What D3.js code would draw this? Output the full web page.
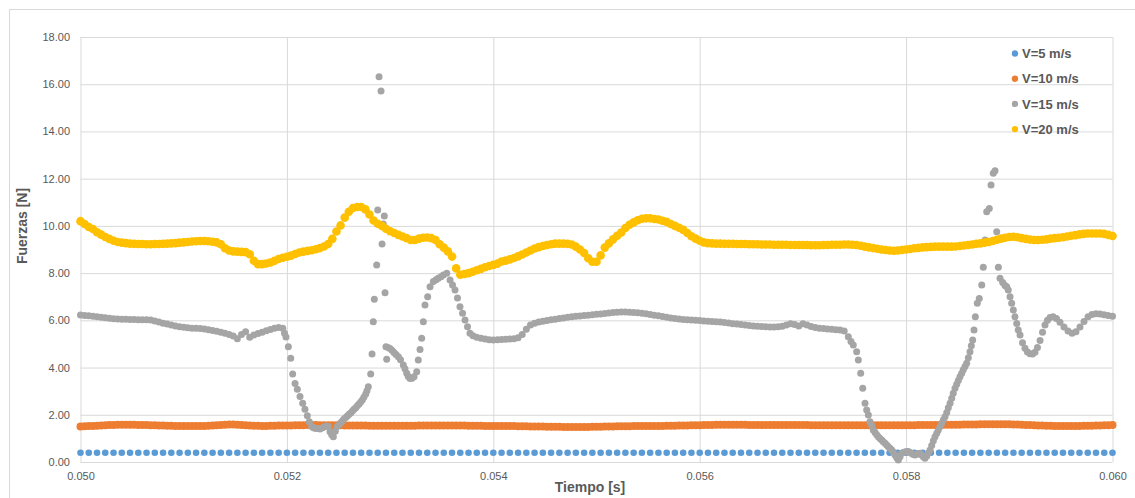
<!DOCTYPE html>
<html>
<head>
<meta charset="utf-8">
<script src="https://cdn.jsdelivr.net/npm/d3@7"></script>
<style>
  html, body { margin: 0; padding: 0; background: #fff; }
  svg { display: block; }
  text { font-family: "Liberation Sans", Arial, sans-serif; }
</style>
</head>
<body>
<svg id="chart" width="1135" height="498"></svg>
<script>
// Time axis (s) and force axis (N)
const xTicks = [0.050, 0.052, 0.054, 0.056, 0.058, 0.060];
const yTicks = [0, 2, 4, 6, 8, 10, 12, 14, 16, 18];
const seriesNames = ["V=5 m/s", "V=10 m/s", "V=15 m/s", "V=20 m/s"];
const seriesColors = ["#5b9bd5", "#ed7d31", "#a5a5a5", "#ffc000"];

// V=5 m/s, sampled every 0.00008 s from 0.050 s
const v5Step = 0.00008;
const v5 = [
  0.39,0.39,0.39,0.39,0.39,0.39,0.39,0.39,0.39,0.39,0.39,0.39,0.39,0.39,0.39,0.39,0.39,0.39,0.39,0.39,
  0.39,0.39,0.39,0.39,0.39,0.39,0.39,0.39,0.39,0.39,0.39,0.39,0.39,0.39,0.39,0.39,0.39,0.39,0.39,0.39,
  0.39,0.39,0.39,0.39,0.39,0.39,0.39,0.39,0.39,0.39,0.39,0.39,0.39,0.39,0.39,0.39,0.39,0.39,0.39,0.39,
  0.39,0.39,0.39,0.39,0.39,0.39,0.39,0.39,0.39,0.39,0.39,0.39,0.39,0.39,0.39,0.39,0.39,0.39,0.39,0.39,
  0.39,0.39,0.39,0.39,0.39,0.39,0.39,0.39,0.39,0.39,0.39,0.39,0.39,0.39,0.39,0.39,0.39,0.39,0.39,0.39,
  0.39,0.39,0.39,0.39,0.39,0.39,0.39,0.39,0.39,0.39,0.39,0.39,0.39,0.39,0.39,0.39,0.39,0.39,0.39,0.39,
  0.39,0.39,0.39,0.39,0.39,0.39
];

// V=10 m/s, sampled every 0.00004 s from 0.050 s
const v10Step = 0.00004;
const v10 = [
  1.50,1.51,1.52,1.53,1.54,1.55,1.56,1.57,1.57,1.58,
  1.58,1.58,1.58,1.58,1.57,1.57,1.57,1.56,1.56,1.55,
  1.55,1.54,1.54,1.53,1.53,1.52,1.52,1.52,1.52,1.53,
  1.53,1.54,1.55,1.56,1.57,1.58,1.59,1.59,1.58,1.57,
  1.56,1.55,1.54,1.54,1.53,1.53,1.54,1.54,1.55,1.55,
  1.55,1.55,1.56,1.56,1.56,1.57,1.57,1.57,1.56,1.56,
  1.56,1.56,1.56,1.56,1.55,1.55,1.55,1.55,1.55,1.55,
  1.54,1.54,1.54,1.54,1.54,1.54,1.54,1.54,1.54,1.54,
  1.54,1.54,1.55,1.55,1.55,1.55,1.55,1.55,1.55,1.55,
  1.55,1.55,1.55,1.55,1.54,1.54,1.54,1.54,1.53,1.53,
  1.53,1.53,1.52,1.52,1.52,1.52,1.51,1.51,1.51,1.50,
  1.50,1.50,1.50,1.49,1.49,1.49,1.49,1.48,1.48,1.48,
  1.48,1.48,1.48,1.48,1.49,1.49,1.49,1.50,1.50,1.50,
  1.51,1.51,1.51,1.51,1.52,1.52,1.52,1.52,1.53,1.53,
  1.53,1.53,1.54,1.54,1.54,1.55,1.55,1.55,1.56,1.56,
  1.56,1.57,1.57,1.57,1.58,1.58,1.58,1.58,1.58,1.58,
  1.58,1.58,1.57,1.57,1.57,1.57,1.57,1.57,1.57,1.57,
  1.57,1.57,1.57,1.57,1.57,1.57,1.57,1.56,1.56,1.56,
  1.56,1.56,1.56,1.56,1.56,1.56,1.56,1.56,1.56,1.56,
  1.56,1.56,1.56,1.56,1.56,1.56,1.56,1.56,1.56,1.56,
  1.56,1.56,1.56,1.57,1.57,1.57,1.57,1.57,1.57,1.58,
  1.58,1.58,1.58,1.58,1.59,1.59,1.59,1.59,1.60,1.60,
  1.60,1.60,1.60,1.60,1.60,1.60,1.59,1.59,1.58,1.57,
  1.57,1.56,1.55,1.55,1.54,1.54,1.53,1.53,1.53,1.53,
  1.53,1.53,1.53,1.54,1.54,1.54,1.55,1.55,1.56,1.56,1.57
];

// V=15 m/s as [time s, force N]
const v15 = [
  [0.05000,6.23],[0.05004,6.21],[0.05008,6.19],[0.05012,6.17],[0.05016,6.15],
  [0.05020,6.13],[0.05024,6.11],[0.05028,6.09],[0.05032,6.07],[0.05036,6.06],
  [0.05040,6.05],[0.05044,6.05],[0.05048,6.04],[0.05052,6.04],[0.05056,6.03],
  [0.05060,6.02],[0.05064,6.02],[0.05068,6.01],[0.05072,5.97],[0.05076,5.93],
  [0.05080,5.88],[0.05084,5.84],[0.05088,5.80],[0.05092,5.76],[0.05096,5.73],
  [0.05100,5.71],[0.05104,5.69],[0.05108,5.67],[0.05112,5.66],[0.05116,5.65],
  [0.05120,5.63],[0.05124,5.60],[0.05128,5.57],[0.05132,5.54],[0.05136,5.50],
  [0.05140,5.45],[0.05144,5.40],[0.05148,5.34],[0.05152,5.22],[0.05156,5.40],
  [0.05160,5.52],[0.05164,5.28],[0.05168,5.38],[0.05172,5.44],[0.05176,5.50],
  [0.05180,5.56],[0.05184,5.61],[0.05188,5.66],[0.05192,5.70],[0.05196,5.66],
  [0.051977,5.45],[0.051991,5.29],[0.052014,4.88],[0.052037,4.39],[0.052056,3.73],
  [0.052079,3.33],[0.052101,3.08],[0.052127,2.77],[0.052153,2.49],[0.052175,2.23],
  [0.052198,1.96],[0.052217,1.71],[0.052240,1.50],[0.052258,1.45],[0.052272,1.43],
  [0.052292,1.42],[0.052321,1.40],[0.052345,1.45],[0.052369,1.50],[0.052389,1.52],
  [0.052401,1.50],[0.052418,1.28],[0.052434,1.15],[0.052450,1.07],[0.052469,1.30],
  [0.052488,1.50],[0.052505,1.58],[0.052521,1.66],[0.052538,1.74],[0.052553,1.82],
  [0.052570,1.89],[0.052586,1.95],[0.052602,2.02],[0.052618,2.08],[0.052635,2.16],
  [0.052650,2.23],[0.052667,2.30],[0.052683,2.38],[0.052699,2.46],[0.052715,2.54],
  [0.052732,2.64],[0.052747,2.75],[0.052764,2.88],[0.052776,3.02],[0.052789,3.19],
  [0.052812,3.73],[0.052825,4.57],[0.052837,5.94],[0.052847,6.89],[0.052870,8.34],
  [0.052880,10.67],[0.052893,16.32],[0.052912,15.71],[0.052922,9.23],[0.052934,10.08],
  [0.052944,10.42],[0.052951,7.17],[0.052960,4.88],[0.052967,4.35],[0.052980,4.85],
  [0.052999,4.81],[0.053018,4.73],[0.053038,4.64],[0.053057,4.55],[0.053080,4.46],
  [0.053101,4.33],[0.053128,4.11],[0.053144,3.95],[0.053161,3.76],[0.053176,3.62],
  [0.053193,3.54],[0.053212,3.55],[0.053232,3.61],[0.053258,3.82],[0.053273,4.32],
  [0.053290,4.77],[0.053306,5.24],[0.053322,5.94],[0.053338,6.65],[0.053364,7.00],
  [0.053387,7.42],[0.053419,7.64],[0.053445,7.72],[0.053467,7.78],[0.053493,7.85],
  [0.053516,7.92],[0.053549,7.99],[0.053581,7.71],[0.053605,7.50],[0.053629,7.28],
  [0.053653,6.95],[0.053677,6.58],[0.053702,6.30],[0.053726,6.01],[0.053750,5.73],
  [0.053774,5.45],[0.053803,5.35],[0.053839,5.28],
  [0.05388,5.24],[0.05392,5.21],[0.05396,5.18],[0.05400,5.17],[0.05404,5.18],
  [0.05408,5.19],[0.05412,5.20],[0.05416,5.21],[0.05420,5.22],[0.05424,5.26],
  [0.05428,5.40],[0.05432,5.62],[0.05436,5.80],[0.05440,5.88],[0.05444,5.93],
  [0.05448,5.96],[0.05452,5.99],[0.05456,6.02],[0.05460,6.05],[0.05464,6.08],
  [0.05468,6.10],[0.05472,6.13],[0.05476,6.15],[0.05480,6.17],[0.05484,6.18],
  [0.05488,6.20],[0.05492,6.22],[0.05496,6.24],[0.05500,6.26],[0.05504,6.27],
  [0.05508,6.29],[0.05512,6.31],[0.05516,6.33],[0.05520,6.34],[0.05524,6.35],
  [0.05528,6.35],[0.05532,6.34],[0.05536,6.33],[0.05540,6.32],[0.05544,6.30],
  [0.05548,6.28],[0.05552,6.25],[0.05556,6.22],[0.05560,6.19],[0.05564,6.16],
  [0.05568,6.13],[0.05572,6.10],[0.05576,6.08],[0.05580,6.06],[0.05584,6.04],
  [0.05588,6.03],[0.05592,6.01],[0.05596,6.00],[0.05600,5.99],[0.05604,5.97],
  [0.05608,5.96],[0.05612,5.95],[0.05616,5.94],[0.05620,5.93],[0.05624,5.91],
  [0.05628,5.89],[0.05632,5.86],[0.05636,5.84],[0.05640,5.82],[0.05644,5.80],
  [0.05648,5.78],[0.05652,5.76],[0.05656,5.75],[0.05660,5.74],[0.05664,5.73],
  [0.05668,5.72],[0.05672,5.72],[0.05676,5.73],[0.05680,5.75],[0.05684,5.80],
  [0.05688,5.86],[0.05692,5.82],[0.05696,5.76],[0.05700,5.86],[0.05704,5.80],
  [0.05708,5.74],[0.05712,5.70],[0.05716,5.67],[0.05720,5.65],[0.05724,5.63],
  [0.05728,5.62],[0.05732,5.60],[0.05736,5.59],[0.05740,5.55],
  [0.057440,5.31],[0.057466,5.10],[0.057488,4.96],[0.057521,4.67],[0.057537,4.32],
  [0.057560,3.76],[0.057580,3.12],[0.057602,2.49],[0.057618,2.20],[0.057634,1.99],
  [0.057650,1.71],[0.057667,1.55],[0.057682,1.36],[0.057699,1.25],[0.057715,1.15],
  [0.057731,1.07],[0.057747,1.00],[0.057764,0.93],[0.057779,0.86],[0.057796,0.79],
  [0.057812,0.72],[0.057828,0.65],[0.057844,0.58],[0.057861,0.51],[0.057876,0.42],
  [0.057893,0.30],[0.057909,0.18],[0.057925,0.08],[0.057941,0.22],[0.057957,0.37],
  [0.057973,0.40],[0.057989,0.42],[0.058006,0.44],[0.058021,0.44],[0.058038,0.40],
  [0.058054,0.36],[0.058070,0.32],[0.058086,0.30],[0.058103,0.33],[0.058118,0.36],
  [0.058135,0.37],[0.058151,0.30],[0.058167,0.22],[0.058183,0.16],[0.058200,0.25],
  [0.058215,0.38],[0.058232,0.51],[0.058248,0.70],[0.058264,0.90],[0.058280,1.07],
  [0.058297,1.22],[0.058312,1.36],[0.058329,1.50],[0.058345,1.64],[0.058361,1.78],
  [0.058377,1.92],[0.058394,2.10],[0.058409,2.30],[0.058426,2.49],[0.058442,2.70],
  [0.058457,2.91],[0.058474,3.12],[0.058490,3.29],[0.058506,3.45],[0.058522,3.61],
  [0.058539,3.76],[0.058554,3.91],[0.058571,4.04],[0.058587,4.18],[0.058603,4.42],
  [0.058619,4.67],[0.058632,4.92],[0.058645,5.17],[0.058658,5.59],[0.058671,6.15],
  [0.058690,6.72],[0.058709,6.93],[0.058733,7.50],[0.058748,8.25],[0.058765,9.40],
  [0.058781,10.60],[0.058806,10.74],[0.058823,11.73],[0.058845,12.23],[0.058862,12.34],
  [0.058878,9.75],[0.058894,8.25],[0.058910,7.78],[0.058936,7.60],[0.058958,7.48],
  [0.058975,7.42],[0.058990,7.28],[0.059007,7.00],[0.059023,6.72],[0.059039,6.44],
  [0.059055,6.15],[0.059072,5.87],[0.059087,5.59],[0.059104,5.38],[0.059128,5.05],
  [0.059152,4.82],[0.059176,4.66],[0.059201,4.58],[0.059225,4.57],[0.059249,4.65],
  [0.059273,4.85],[0.059298,5.15],[0.059322,5.50],[0.059346,5.80],[0.059370,6.00],
  [0.059395,6.12],[0.059424,6.15],[0.059457,6.08],[0.059491,5.92],[0.059530,5.72],
  [0.059569,5.55],[0.059608,5.45],[0.059646,5.52],[0.059685,5.72],[0.059724,5.95],
  [0.059763,6.15],[0.059801,6.25],[0.059840,6.28],[0.059879,6.27],[0.059918,6.24],
  [0.059957,6.20],[0.060000,6.17]
];

// V=20 m/s, sampled every 0.00004 s from 0.050 s
const v20Step = 0.00004;
const v20 = [
  10.20,10.08,9.95,9.87,9.73,9.63,9.53,9.45,9.37,9.32,
  9.29,9.27,9.25,9.24,9.23,9.23,9.22,9.22,9.23,9.23,
  9.24,9.25,9.26,9.27,9.29,9.30,9.32,9.34,9.35,9.36,
  9.36,9.35,9.33,9.30,9.22,9.05,8.96,8.92,8.91,8.90,
  8.89,8.80,8.52,8.38,8.38,8.41,8.45,8.52,8.60,8.65,
  8.69,8.74,8.81,8.87,8.91,8.94,8.97,9.01,9.06,9.13,
  9.23,9.45,9.76,10.02,10.35,10.60,10.76,10.80,10.80,10.70,
  10.48,10.23,10.09,10.00,9.88,9.77,9.70,9.62,9.55,9.48,
  9.40,9.40,9.46,9.50,9.51,9.48,9.40,9.22,9.08,8.92,
  8.70,8.20,7.93,7.96,8.00,8.06,8.12,8.18,8.25,8.30,
  8.35,8.40,8.49,8.53,8.58,8.64,8.71,8.79,8.87,8.96,
  9.04,9.10,9.15,9.19,9.22,9.25,9.25,9.25,9.24,9.21,
  9.12,9.00,8.85,8.63,8.48,8.48,8.75,9.08,9.26,9.43,
  9.58,9.72,9.91,10.05,10.15,10.24,10.30,10.32,10.32,10.29,
  10.27,10.22,10.17,10.08,10.00,9.92,9.83,9.70,9.56,9.46,
  9.37,9.30,9.27,9.26,9.25,9.25,9.24,9.24,9.24,9.23,
  9.23,9.23,9.22,9.22,9.22,9.21,9.21,9.21,9.20,9.20,
  9.20,9.20,9.19,9.19,9.19,9.19,9.19,9.18,9.18,9.18,
  9.19,9.19,9.20,9.20,9.20,9.21,9.21,9.20,9.19,9.16,
  9.12,9.09,9.06,9.03,9.00,8.98,8.96,8.95,8.96,8.98,
  9.00,9.02,9.05,9.07,9.09,9.10,9.11,9.12,9.12,9.12,
  9.12,9.12,9.13,9.15,9.17,9.19,9.21,9.24,9.26,9.29,
  9.32,9.36,9.41,9.46,9.50,9.53,9.54,9.52,9.48,9.45,
  9.42,9.40,9.40,9.41,9.43,9.46,9.48,9.50,9.52,9.55,
  9.58,9.61,9.64,9.66,9.68,9.68,9.68,9.68,9.66,9.62,9.57
];

const t0 = 0.050;
const seriesData = [
  v5.map((v, i) => [t0 + i * v5Step, v]),
  v10.map((v, i) => [t0 + i * v10Step, v]),
  v15,
  v20.map((v, i) => [t0 + i * v20Step, v])
];

const svg = d3.select("#chart");
const W = 1135, H = 498;
const plot = { left: 80.5, right: 1112.5, top: 37, bottom: 462 };
const x = d3.scaleLinear().domain([0.050, 0.060]).range([plot.left, plot.right]);
const y = d3.scaleLinear().domain([0, 18]).range([plot.bottom, plot.top]);
const textColor = "#595959";
const gridColor = "#d9d9d9";

svg.append("rect").attr("width", W).attr("height", H).attr("fill", "#fff");
// chart area outline
svg.append("rect").attr("x", 9.5).attr("y", 9.5).attr("width", W + 20).attr("height", H + 20)
  .attr("fill", "none").attr("stroke", gridColor);

// horizontal grid + y labels
const yAxis = svg.append("g").attr("transform", `translate(${plot.left},0)`)
  .call(d3.axisLeft(y).tickValues(yTicks).tickFormat(d3.format(".2f"))
    .tickSize(-(plot.right - plot.left)).tickPadding(10.5));
yAxis.select(".domain").remove();
yAxis.selectAll(".tick line").attr("stroke", gridColor);
yAxis.selectAll(".tick text").attr("fill", textColor)
  .style("font-size", "11px").style("font-family", "'Liberation Sans', Arial, sans-serif");

// vertical grid + x labels
const xAxis = svg.append("g").attr("transform", `translate(0,${plot.bottom})`)
  .call(d3.axisBottom(x).tickValues(xTicks).tickFormat(d3.format(".3f"))
    .tickSize(-(plot.bottom - plot.top)).tickPadding(10));
xAxis.select(".domain").remove();
xAxis.selectAll(".tick line").attr("stroke", gridColor);
xAxis.selectAll(".tick text").attr("fill", textColor)
  .style("font-size", "11px").style("font-family", "'Liberation Sans', Arial, sans-serif");

// axis titles
svg.append("text").attr("x", 590).attr("y", 492).attr("text-anchor", "middle")
  .attr("fill", textColor).style("font-size", "14px").style("font-weight", "bold")
  .text("Tiempo [s]");
svg.append("text").attr("transform", "translate(27,226) rotate(-90)").attr("text-anchor", "middle")
  .attr("fill", textColor).style("font-size", "14px").style("font-weight", "bold")
  .text("Fuerzas [N]");

// scatter series (later series drawn on top)
const radii = [3.3, 4.0, 3.5, 4.3];
seriesData.forEach((data, k) => {
  svg.append("g").selectAll("circle").data(data).join("circle")
    .attr("cx", d => x(d[0])).attr("cy", d => y(d[1]))
    .attr("r", radii[k]).attr("fill", seriesColors[k]);
});

// legend
const legend = svg.append("g");
seriesNames.forEach((name, k) => {
  const ly = 53.5 + k * 25.2;
  legend.append("circle").attr("cx", 1015).attr("cy", ly).attr("r", 3.2).attr("fill", seriesColors[k]);
  legend.append("text").attr("x", 1022).attr("y", ly).attr("dy", "0.36em")
    .attr("fill", textColor).style("font-size", "13px").style("font-weight", "bold").text(name);
});
</script>
</body>
</html>
